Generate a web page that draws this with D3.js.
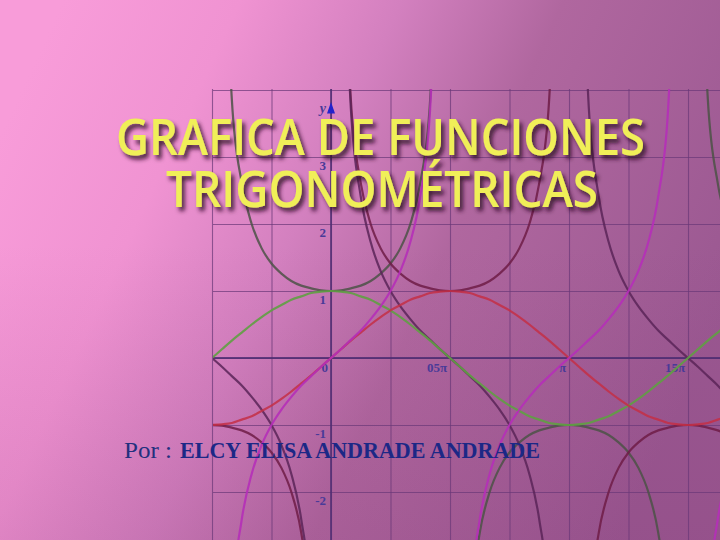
<!DOCTYPE html>
<html>
<head>
<meta charset="utf-8">
<script src="https://cdn.jsdelivr.net/npm/d3@7"></script>
<style>
  html, body { margin: 0; padding: 0; background: #c47ab4; }
  svg { display: block; }
</style>
</head>
<body>
<div id="chart"></div>
<script>
// ---- data (angles in degrees) ----
const xDeg = [-90,-82.5,-75,-67.5,-60,-52.5,-45,-37.5,-30,-22.5,-15,-7.5,
  0,7.5,15,22.5,30,37.5,45,52.5,60,67.5,75,82.5,
  90,97.5,105,112.5,120,127.5,135,142.5,150,157.5,165,172.5,
  180,187.5,195,202.5,210,217.5,225,232.5,240,247.5,255,262.5,
  270,277.5,285,292.5,300];

const sinVals = [-1,-0.99,-0.97,-0.92,-0.87,-0.79,-0.71,-0.61,-0.5,-0.38,-0.26,-0.13,
  0,0.13,0.26,0.38,0.5,0.61,0.71,0.79,0.87,0.92,0.97,0.99,
  1,0.99,0.97,0.92,0.87,0.79,0.71,0.61,0.5,0.38,0.26,0.13,
  0,-0.13,-0.26,-0.38,-0.5,-0.61,-0.71,-0.79,-0.87,-0.92,-0.97,-0.99,
  -1,-0.99,-0.97,-0.92,-0.87];

const cosVals = [0,0.13,0.26,0.38,0.5,0.61,0.71,0.79,0.87,0.92,0.97,0.99,
  1,0.99,0.97,0.92,0.87,0.79,0.71,0.61,0.5,0.38,0.26,0.13,
  0,-0.13,-0.26,-0.38,-0.5,-0.61,-0.71,-0.79,-0.87,-0.92,-0.97,-0.99,
  -1,-0.99,-0.97,-0.92,-0.87,-0.79,-0.71,-0.61,-0.5,-0.38,-0.26,-0.13,
  0,0.13,0.26,0.38,0.5];

const tanVals = [null,-7.6,-3.73,-2.41,-1.73,-1.3,-1,-0.77,-0.58,-0.41,-0.27,-0.13,
  0,0.13,0.27,0.41,0.58,0.77,1,1.3,1.73,2.41,3.73,7.6,
  null,-7.6,-3.73,-2.41,-1.73,-1.3,-1,-0.77,-0.58,-0.41,-0.27,-0.13,
  0,0.13,0.27,0.41,0.58,0.77,1,1.3,1.73,2.41,3.73,7.6,
  null,-7.6,-3.73,-2.41,-1.73];

const cotVals = [0,-0.13,-0.27,-0.41,-0.58,-0.77,-1,-1.3,-1.73,-2.41,-3.73,-7.6,
  null,7.6,3.73,2.41,1.73,1.3,1,0.77,0.58,0.41,0.27,0.13,
  0,-0.13,-0.27,-0.41,-0.58,-0.77,-1,-1.3,-1.73,-2.41,-3.73,-7.6,
  null,7.6,3.73,2.41,1.73,1.3,1,0.77,0.58,0.41,0.27,0.13,
  0,-0.13,-0.27,-0.41,-0.58];

const secVals = [null,7.66,3.86,2.61,2,1.64,1.41,1.26,1.15,1.08,1.04,1.01,
  1,1.01,1.04,1.08,1.15,1.26,1.41,1.64,2,2.61,3.86,7.66,
  null,-7.66,-3.86,-2.61,-2,-1.64,-1.41,-1.26,-1.15,-1.08,-1.04,-1.01,
  -1,-1.01,-1.04,-1.08,-1.15,-1.26,-1.41,-1.64,-2,-2.61,-3.86,-7.66,
  null,7.66,3.86,2.61,2];

const cscVals = [-1,-1.01,-1.04,-1.08,-1.15,-1.26,-1.41,-1.64,-2,-2.61,-3.86,-7.66,
  null,7.66,3.86,2.61,2,1.64,1.41,1.26,1.15,1.08,1.04,1.01,
  1,1.01,1.04,1.08,1.15,1.26,1.41,1.64,2,2.61,3.86,7.66,
  null,-7.66,-3.86,-2.61,-2,-1.64,-1.41,-1.26,-1.15,-1.08,-1.04,-1.01,
  -1,-1.01,-1.04,-1.08,-1.15];

const xGrid = [-90,-45,0,45,90,135,180,225,270];
const yGrid = [-2,-1,0,1,2,3,4];
const xTickVals = [0,90,180,270];
const xTickLabels = ["0","05π","π","15π"];
const yTickVals = [3,2,1,-1,-2];
const yTickLabels = ["3","2","1","-1","-2"];

const titleLines = ["GRAFICA DE FUNCIONES","TRIGONOMÉTRICAS"];
const byLabel = "Por :";
const authorName = "ELCY ELISA ANDRADE ANDRADE";

// ---- drawing ----
const W = 720, H = 540;
const P = {left: 213, top: 89, right: 720, bottom: 540};

const svg = d3.select("#chart").append("svg")
  .attr("width", W).attr("height", H);

const defs = svg.append("defs");
const bg = defs.append("linearGradient").attr("id","bg")
  .attr("x1","0").attr("y1","0.25").attr("x2","1").attr("y2","0.6");
[["0","#f89cd9"],["0.22","#f093d2"],["0.42","#d380bf"],["0.62","#b0679f"],["1","#9a5891"]]
  .forEach(([o,c]) => bg.append("stop").attr("offset",o).attr("stop-color",c));
const bg2 = defs.append("linearGradient").attr("id","bg2")
  .attr("x1","0").attr("y1","0").attr("x2","0").attr("y2","1");
bg2.append("stop").attr("offset","0.45").attr("stop-color","#7a2a6a").attr("stop-opacity",0);
bg2.append("stop").attr("offset","1").attr("stop-color","#7a2a6a").attr("stop-opacity",0.14);

const shadow = defs.append("filter").attr("id","shadow")
  .attr("x","-10%").attr("y","-30%").attr("width","130%").attr("height","170%");
shadow.append("feDropShadow").attr("dx",3).attr("dy",4).attr("stdDeviation",2)
  .attr("flood-color","#2e0a28").attr("flood-opacity",0.85);

defs.append("clipPath").attr("id","plotclip").append("rect")
  .attr("x",P.left).attr("y",P.top).attr("width",P.right-P.left).attr("height",P.bottom-P.top);

svg.append("rect").attr("width",W).attr("height",H).attr("fill","url(#bg)");
svg.append("rect").attr("width",W).attr("height",H).attr("fill","url(#bg2)");

const x = d3.scaleLinear().domain([0, 90]).range([331, 450]);
const y = d3.scaleLinear().domain([0, 1]).range([358, 291]);

// grid via axes
const gGridX = svg.append("g").attr("transform",`translate(0,${P.bottom})`)
  .call(d3.axisBottom(x).tickValues(xGrid).tickSize(-(P.bottom-P.top)).tickFormat(""));
const gGridY = svg.append("g").attr("transform",`translate(${P.right},0)`)
  .call(d3.axisRight(y).tickValues(yGrid).tickSize(-(P.right-P.left)).tickFormat(""));
[gGridX, gGridY].forEach(g => {
  g.select(".domain").remove();
  g.selectAll(".tick line").attr("stroke","#6a3878").attr("stroke-opacity",0.7).attr("stroke-width",1.1);
});

// main axes
svg.append("line").attr("x1",P.left).attr("x2",P.right).attr("y1",y(0)).attr("y2",y(0))
  .attr("stroke","#4e2d72").attr("stroke-width",1.8).attr("stroke-opacity",0.85);
svg.append("line").attr("x1",x(0)).attr("x2",x(0)).attr("y1",P.top).attr("y2",P.bottom)
  .attr("stroke","#4e2d72").attr("stroke-width",1.8).attr("stroke-opacity",0.85);
// arrow on y axis
svg.append("path")
  .attr("d",`M${x(0)},${y(3.82)} L${x(0)-4},${y(3.65)} L${x(0)+4},${y(3.65)} Z`)
  .attr("fill","#2222cc");

// tick labels
const lblFont = "'Liberation Serif', 'DejaVu Serif', serif";
svg.append("g").selectAll("text").data(xTickVals).join("text")
  .attr("x", d => x(d) - 3).attr("y", y(0) + 14)
  .attr("text-anchor","end").attr("font-family",lblFont).attr("font-size",13).attr("font-weight","bold")
  .attr("fill","#4a3a98").text((d,i) => xTickLabels[i]);
svg.append("g").selectAll("text").data(yTickVals).join("text")
  .attr("x", x(0) - 5).attr("y", d => y(d) + 13)
  .attr("text-anchor","end").attr("font-family",lblFont).attr("font-size",13).attr("font-weight","bold")
  .attr("fill","#4a3a98").text((d,i) => yTickLabels[i]);
svg.append("text").attr("x", x(0)-5).attr("y", 113).attr("text-anchor","end")
  .attr("font-family",lblFont).attr("font-style","italic").attr("font-weight","bold").attr("font-size",14)
  .attr("fill","#4a3a98").text("y");

// curves
const series = [
  {name:"sec", vals: secVals, color:"#4c5247", op:0.85},
  {name:"csc", vals: cscVals, color:"#6e1c46", op:0.85},
  {name:"cot", vals: cotVals, color:"#5a2458", op:0.85},
  {name:"cos", vals: cosVals, color:"#5fa043", op:0.9},
  {name:"sin", vals: sinVals, color:"#c42f45", op:0.85},
  {name:"tan", vals: tanVals, color:"#b52fb8", op:0.9}
];
const line = d3.line()
  .defined(d => d[1] !== null)
  .x(d => x(d[0])).y(d => y(d[1]))
  .curve(d3.curveMonotoneX);
const gc = svg.append("g").attr("clip-path","url(#plotclip)");
series.forEach(s => {
  gc.append("path")
    .datum(xDeg.map((d,i) => [d, s.vals[i]]))
    .attr("d", line)
    .attr("fill","none").attr("stroke", s.color)
    .attr("stroke-opacity", s.op).attr("stroke-width", 2.2);
});

// title
const tFont = "'Open Sans', Lato, sans-serif";
const tg = svg.append("g").attr("filter","url(#shadow)");
tg.append("text").attr("x",116).attr("y",155)
  .attr("textLength",529).attr("lengthAdjust","spacingAndGlyphs")
  .attr("font-family",tFont).attr("font-weight",600).attr("font-size",51).attr("fill","#f0ef58")
  .text(titleLines[0]);
tg.append("text").attr("x",166).attr("y",207)
  .attr("textLength",432).attr("lengthAdjust","spacingAndGlyphs")
  .attr("font-family",tFont).attr("font-weight",600).attr("font-size",51).attr("fill","#f0ef58")
  .text(titleLines[1]);

// author
svg.append("text").attr("x",124).attr("y",458)
  .attr("textLength",48).attr("lengthAdjust","spacingAndGlyphs")
  .attr("font-family","'Liberation Serif', serif").attr("font-size",23)
  .attr("fill","#22307e").text(byLabel);
svg.append("text").attr("x",180).attr("y",458)
  .attr("textLength",360).attr("lengthAdjust","spacingAndGlyphs")
  .attr("font-family","'Liberation Serif', serif").attr("font-weight","bold").attr("font-size",23)
  .attr("fill","#1c2886")
  .text(authorName);
</script>
</body>
</html>
